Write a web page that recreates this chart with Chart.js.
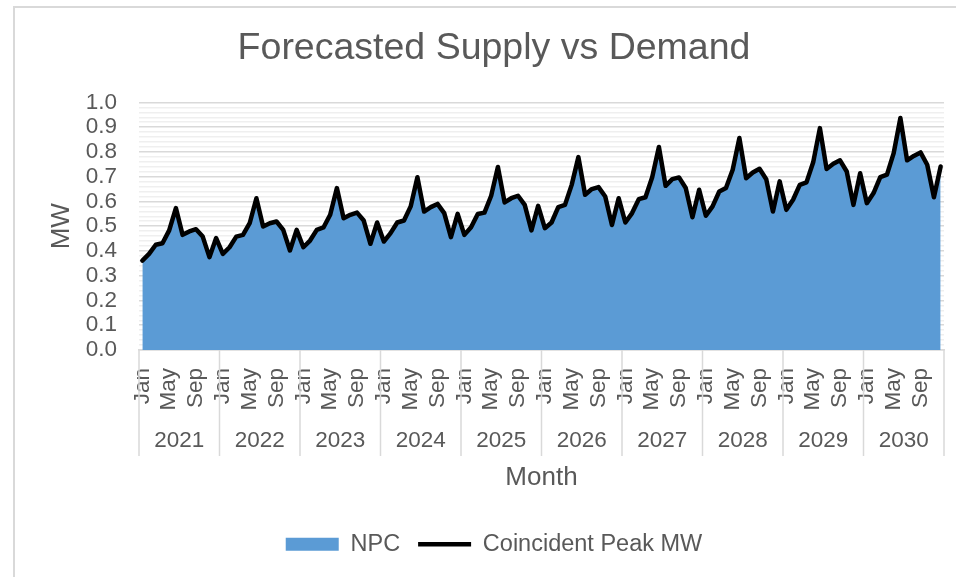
<!DOCTYPE html>
<html>
<head>
<meta charset="utf-8">
<script src="https://cdn.jsdelivr.net/npm/chart.js@4.4.1/dist/chart.umd.min.js"></script>
<style>
  html, body { margin: 0; padding: 0; background: #ffffff; }
  #frame {
    position: absolute; left: 13px; top: 6px; width: 2000px; height: 2000px;
    border-left: 2px solid #d9d9d9; border-top: 2px solid #d9d9d9;
  }
  #wrap { position: absolute; left: 0; top: 0; width: 956px; height: 577px; }
</style>
</head>
<body>
<div id="frame"></div>
<div id="wrap"><canvas id="supplyDemand" width="956" height="577"></canvas></div>
<script>
const years = ['2021', '2022', '2023', '2024', '2025', '2026', '2027', '2028', '2029', '2030'];
const months = ['Jan', 'Feb', 'Mar', 'Apr', 'May', 'Jun', 'Jul', 'Aug', 'Sep', 'Oct', 'Nov', 'Dec'];
const shownMonths = ['Jan', 'May', 'Sep'];

// Coincident peak, MW, one row per year (Jan..Dec)
const peakMw = [
  0.361, 0.388, 0.425, 0.431, 0.483, 0.573, 0.465, 0.479, 0.488, 0.458, 0.375, 0.452,
  0.388, 0.415, 0.458, 0.465, 0.512, 0.613, 0.499, 0.512, 0.519, 0.485, 0.402, 0.485,
  0.415, 0.442, 0.485, 0.495, 0.546, 0.654, 0.532, 0.546, 0.555, 0.523, 0.429, 0.515,
  0.438, 0.472, 0.515, 0.523, 0.580, 0.698, 0.559, 0.577, 0.590, 0.553, 0.456, 0.550,
  0.465, 0.496, 0.549, 0.555, 0.623, 0.739, 0.596, 0.613, 0.623, 0.586, 0.483, 0.582,
  0.492, 0.515, 0.577, 0.586, 0.667, 0.779, 0.627, 0.650, 0.658, 0.620, 0.505, 0.613,
  0.515, 0.553, 0.609, 0.617, 0.698, 0.820, 0.663, 0.690, 0.697, 0.654, 0.536, 0.647,
  0.542, 0.580, 0.640, 0.654, 0.728, 0.856, 0.694, 0.717, 0.732, 0.690, 0.559, 0.681,
  0.566, 0.607, 0.667, 0.677, 0.758, 0.896, 0.731, 0.752, 0.766, 0.721, 0.586, 0.714,
  0.593, 0.634, 0.698, 0.708, 0.795, 0.937, 0.766, 0.784, 0.798, 0.748, 0.617, 0.741
];

// NPC area, its top edge sits right under the peak line in the picture
const npcMw = [
  0.361, 0.388, 0.425, 0.431, 0.483, 0.573, 0.465, 0.479, 0.488, 0.458, 0.375, 0.452,
  0.388, 0.415, 0.458, 0.465, 0.512, 0.613, 0.499, 0.512, 0.519, 0.485, 0.402, 0.485,
  0.415, 0.442, 0.485, 0.495, 0.546, 0.654, 0.532, 0.546, 0.555, 0.523, 0.429, 0.515,
  0.438, 0.472, 0.515, 0.523, 0.580, 0.698, 0.559, 0.577, 0.590, 0.553, 0.456, 0.550,
  0.465, 0.496, 0.549, 0.555, 0.623, 0.739, 0.596, 0.613, 0.623, 0.586, 0.483, 0.582,
  0.492, 0.515, 0.577, 0.586, 0.667, 0.779, 0.627, 0.650, 0.658, 0.620, 0.505, 0.613,
  0.515, 0.553, 0.609, 0.617, 0.698, 0.820, 0.663, 0.690, 0.697, 0.654, 0.536, 0.647,
  0.542, 0.580, 0.640, 0.654, 0.728, 0.856, 0.694, 0.717, 0.732, 0.690, 0.559, 0.681,
  0.566, 0.607, 0.667, 0.677, 0.758, 0.896, 0.731, 0.752, 0.766, 0.721, 0.586, 0.714,
  0.593, 0.634, 0.698, 0.708, 0.795, 0.937, 0.766, 0.784, 0.798, 0.748, 0.617, 0.741
];

const yMin = 0;
const yMax = 1;
const yMinorStep = 0.02;

const FONT = '"Liberation Sans", Arial, sans-serif';
const TEXT = '#595959';
const GRID = '#d9d9d9';
const MINOR_GRID = '#efefef';

const monthLabels = [];
years.forEach(() => months.forEach(m => monthLabels.push(m)));

// year row under the month labels, with separators between the years
const yearRow = {
  id: 'yearRow',
  afterDraw(chart) {
    const { ctx, chartArea } = chart;
    const x = chart.scales.x;
    const step = x.getPixelForValue(1) - x.getPixelForValue(0);
    const top = chartArea.bottom;

    ctx.save();
    ctx.strokeStyle = GRID;
    ctx.lineWidth = 1.5;
    ctx.fillStyle = TEXT;
    ctx.font = '22.5px ' + FONT;
    ctx.textAlign = 'center';
    ctx.textBaseline = 'middle';

    years.forEach((year, k) => {
      const left = x.getPixelForValue(k * 12) - step / 2;
      const right = x.getPixelForValue(k * 12 + 11) + step / 2;

      ctx.beginPath();
      ctx.moveTo(left, top);
      ctx.lineTo(left, top + 106);
      if (k === years.length - 1) {
        ctx.moveTo(right, top);
        ctx.lineTo(right, top + 106);
      }
      ctx.stroke();

      ctx.fillText(year, (left + right) / 2, top + 91);
    });
    ctx.restore();
  }
};

const ctx = document.getElementById('supplyDemand').getContext('2d');

new Chart(ctx, {
  type: 'line',
  data: {
    labels: monthLabels,
    datasets: [{
      label: 'Coincident Peak MW',
      data: peakMw,
      borderColor: '#000000',
      backgroundColor: '#000000',
      borderWidth: 4.5,
      borderJoinStyle: 'round',
      borderCapStyle: 'round',
      pointRadius: 0,
      pointStyle: 'line',
      tension: 0,
      fill: false
    }, {
      label: 'NPC',
      data: npcMw,
      borderWidth: 0,
      borderColor: '#5b9bd5',
      backgroundColor: '#5b9bd5',
      pointRadius: 0,
      pointStyle: 'rect',
      tension: 0,
      fill: 'origin'
    }]
  },
  plugins: [yearRow],
  options: {
    responsive: false,
    animation: false,
    events: [],
    layout: {
      padding: { left: 44, right: 12, top: 0, bottom: 11 }
    },
    scales: {
      x: {
        type: 'category',
        offset: true,
        grid: { display: false },
        border: { display: true, color: GRID, width: 1.5 },
        ticks: {
          autoSkip: false,
          minRotation: 90,
          maxRotation: 90,
          padding: 10,
          color: TEXT,
          font: { family: FONT, size: 22.5 },
          callback: function (value) {
            const label = this.getLabelForValue(value);
            return shownMonths.includes(label) ? label : '';
          }
        },
        title: {
          display: true,
          text: 'Month',
          color: TEXT,
          font: { family: FONT, size: 26 },
          padding: { top: 0, bottom: 21 }
        },
        afterFit: (axis) => {
          axis.height = 164.5;
          axis.paddingLeft = 0;
          axis.paddingRight = 0;
        }
      },
      y: {
        min: yMin,
        max: yMax,
        afterBuildTicks: (axis) => {
          const ticks = [];
          for (let v = yMin; v <= yMax + 1e-9; v += yMinorStep) {
            ticks.push({ value: Math.round(v * 100) / 100 });
          }
          axis.ticks = ticks;
        },
        grid: {
          drawTicks: false,
          lineWidth: 1.5,
          color: (c) => {
            const v = Math.round(c.tick.value * 100);
            return v % 10 === 0 ? GRID : MINOR_GRID;
          }
        },
        border: { display: false },
        ticks: {
          autoSkip: false,
          padding: 22,
          color: TEXT,
          font: { family: FONT, size: 22.5 },
          callback: (value) => {
            const v = Math.round(value * 100);
            return v % 10 === 0 ? (v / 100).toFixed(1) : '';
          }
        },
        title: {
          display: true,
          text: 'MW',
          color: TEXT,
          font: { family: FONT, size: 26, lineHeight: 1 },
          padding: { top: 5, bottom: 0 }
        },
        afterFit: (axis) => { axis.width = 95; }
      }
    },
    plugins: {
      title: {
        display: true,
        text: 'Forecasted Supply vs Demand',
        color: TEXT,
        font: { family: FONT, size: 37.5, weight: 'normal' },
        padding: { top: 26.3, bottom: 31.1 }
      },
      legend: {
        position: 'bottom',
        labels: {
          usePointStyle: true,
          pointStyleWidth: 53,
          boxHeight: 13,
          padding: 18,
          color: TEXT,
          font: { family: FONT, size: 23.5 },
          sort: (a, b) => b.datasetIndex - a.datasetIndex
        }
      },
      tooltip: { enabled: false }
    }
  }
});
</script>
</body>
</html>
